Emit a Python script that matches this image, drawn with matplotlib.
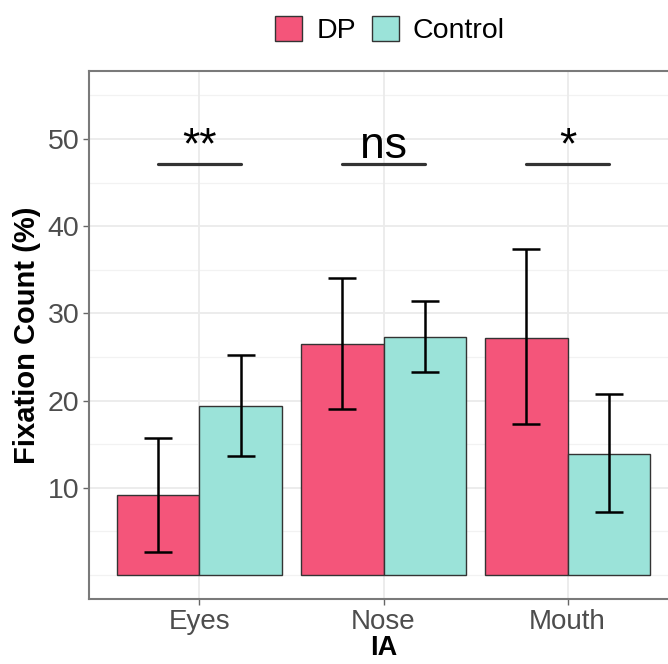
import numpy as np
import matplotlib.pyplot as plt
from matplotlib.patches import Patch

plt.rcParams['font.family'] = ['Liberation Sans', 'DejaVu Sans']

# data
regions = ['Eyes', 'Nose', 'Mouth']
groups = ['DP', 'Control']
dp_mean = [9.2, 26.45, 27.2]
dp_low = [2.6, 19.0, 17.35]
dp_high = [15.75, 34.1, 37.35]
ctrl_mean = [19.4, 27.3, 13.85]
ctrl_low = [13.65, 23.3, 7.25]
ctrl_high = [25.2, 31.4, 20.75]
signif = ['**', 'ns', '*']
signif_y = 47.1

colours = {'DP': '#F4557A', 'Control': '#9BE3D9'}

fig = plt.figure(figsize=(6.68, 6.64), dpi=100)
ax = fig.add_axes([89/668, 65/664, 589/668, 528/664])

x = np.arange(1, len(regions) + 1)
w = 0.45

# grid
for yv in [0, 5, 15, 25, 35, 45, 55]:
    ax.axhline(yv, color='#F2F2F2', lw=0.9, zorder=0)
for yv in [10, 20, 30, 40, 50]:
    ax.axhline(yv, color='#EBEBEB', lw=1.3, zorder=0)
for xv in x:
    ax.axvline(xv, color='#EBEBEB', lw=1.3, zorder=0)

series = [(dp_mean, dp_low, dp_high, -w/2, 'DP'),
          (ctrl_mean, ctrl_low, ctrl_high, w/2, 'Control')]
for mean, low, high, off, name in series:
    ax.bar(x + off, mean, width=w, color=colours[name], edgecolor='#333333',
           linewidth=1.0, zorder=2)
    mean = np.array(mean)
    err = [mean - np.array(low), np.array(high) - mean]
    ax.errorbar(x + off, mean, yerr=err, fmt='none', ecolor='black',
                elinewidth=1.8, capsize=10, capthick=1.8, zorder=3)

# significance
for xi, lab in zip(x, signif):
    ax.plot([xi - w/2, xi + w/2], [signif_y, signif_y], color='#333333',
            lw=2.3, solid_capstyle='round', zorder=3)
    ax.text(xi, 47.8, lab, ha='center', va='baseline', fontsize=32,
            color='black', zorder=4)

ax.set_xlim(0.4, 3.6)
ax.set_ylim(-2.75, 57.8)
ax.set_xticks(x)
ax.set_xticklabels(regions, fontsize=20, color='#4D4D4D')
ax.set_yticks([10, 20, 30, 40, 50])
ax.set_yticklabels(['10', '20', '30', '40', '50'], fontsize=20.5, color='#4D4D4D')
ax.tick_params(length=4, width=1, color='#666666', pad=3)
ax.set_xlabel('IA', fontsize=19.5, fontweight='bold', labelpad=0)
ax.set_ylabel('Fixation Count (%)', fontsize=21, fontweight='bold', labelpad=5)
for s in ax.spines.values():
    s.set_color('#7A7A7A')
    s.set_linewidth(1.5)

handles = [Patch(facecolor=colours[g], edgecolor='#333333', linewidth=1.0) for g in groups]
fig.legend(handles, groups, loc='center', bbox_to_anchor=(390/668, 1 - 30/664),
           ncol=2, frameon=False, fontsize=20.5, handlelength=0.95, handleheight=0.95,
           handletextpad=0.5, columnspacing=0.55, borderpad=0)

plt.savefig('out.png', dpi=100)
